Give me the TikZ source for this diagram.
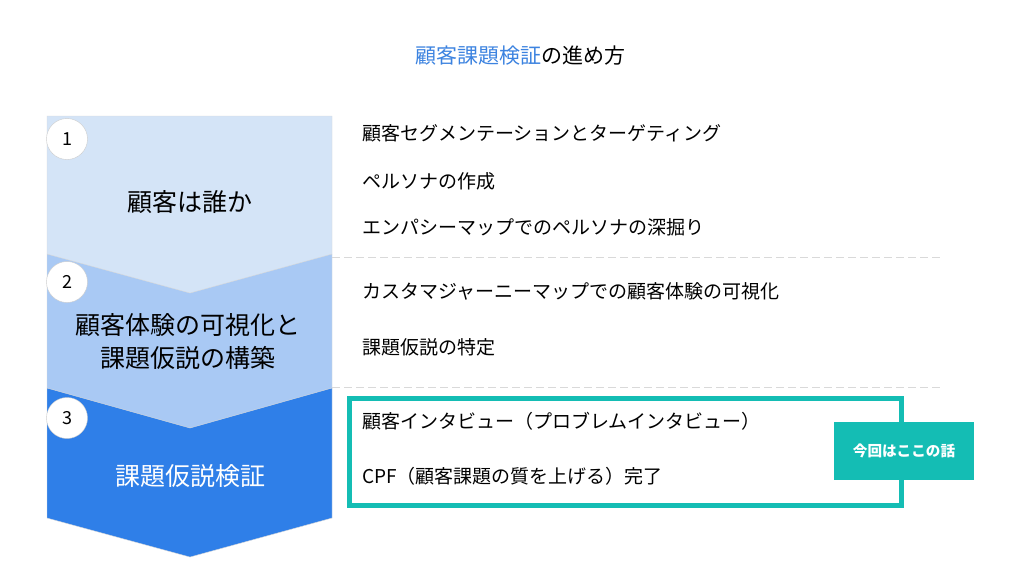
\documentclass[tikz,border=0pt]{standalone}
\usepackage{fontspec}
\setmainfont{Noto Sans CJK JP}
\definecolor{cA}{HTML}{D4E4F7}
\definecolor{cB}{HTML}{A9C9F4}
\definecolor{cC}{HTML}{2F7FE8}
\definecolor{teal}{HTML}{14BDB4}
\definecolor{ttl}{HTML}{3C83E0}
\begin{document}
\begin{tikzpicture}[x=1pt,y=-1pt,
  num/.style={circle,draw=black!20,fill=white,minimum size=41pt,inner sep=0pt,font=\fontsize{18}{18}\selectfont},
  item/.style={anchor=west,font=\fontsize{19}{20}\selectfont,inner sep=0pt},
  stage/.style={align=center,font=\fontsize{25}{33}\selectfont},
  sep/.style={draw=black!15,dashed,line width=1pt,dash pattern=on 8pt off 4pt}]
\fill[white] (0,0) rectangle (1024,576);
\node (title) at (520,56) {\fontsize{21}{21}\selectfont\textcolor{ttl}{顧客課題検証}の進め方};
\fill[cC,draw=black!15] (47,388) -- (332,388) -- (332,518) -- (190,557) -- (47,518) -- cycle;
\fill[cB,draw=black!15] (47,254) -- (332,254) -- (332,388) -- (190,428) -- (47,388) -- cycle;
\fill[cA,draw=black!15] (47,116) -- (332,116) -- (332,254) -- (190,293) -- (47,254) -- cycle;
\node[num] (n1) at (67,139) {1};
\node[num] (n2) at (67,282) {2};
\node[num] (n3) at (67,418) {3};
\node[stage] (s1) at (190,202) {顧客は誰か};
\node[stage] (s2) at (188,342) {顧客体験の可視化と\\課題仮説の構築};
\node[stage,text=white] (s3) at (190,476) {課題仮説検証};
\draw[sep] (332,257) -- (942,257);
\draw[sep] (332,387) -- (942,387);
\draw[teal,line width=5pt] (349,398) rectangle (901,505);
\node[fill=teal,minimum width=140pt,minimum height=58pt,text=white,font=\bfseries\fontsize{14.6}{15}\selectfont] (tag) at (904,451) {今回はここの話};
\node[item] (i1) at (362,133) {顧客セグメンテーションとターゲティング};
\node[item] (i2) at (362,181) {ペルソナの作成};
\node[item] (i3) at (362,227) {エンパシーマップでのペルソナの深掘り};
\node[item] (i4) at (362,291) {カスタマジャーニーマップでの顧客体験の可視化};
\node[item] (i5) at (362,347) {課題仮説の特定};
\node[item] (i6) at (362,421) {顧客インタビュー（プロブレムインタビュー）};
\node[item] (i7) at (362,476) {CPF（顧客課題の質を上げる）完了};
\end{tikzpicture}
\end{document}
